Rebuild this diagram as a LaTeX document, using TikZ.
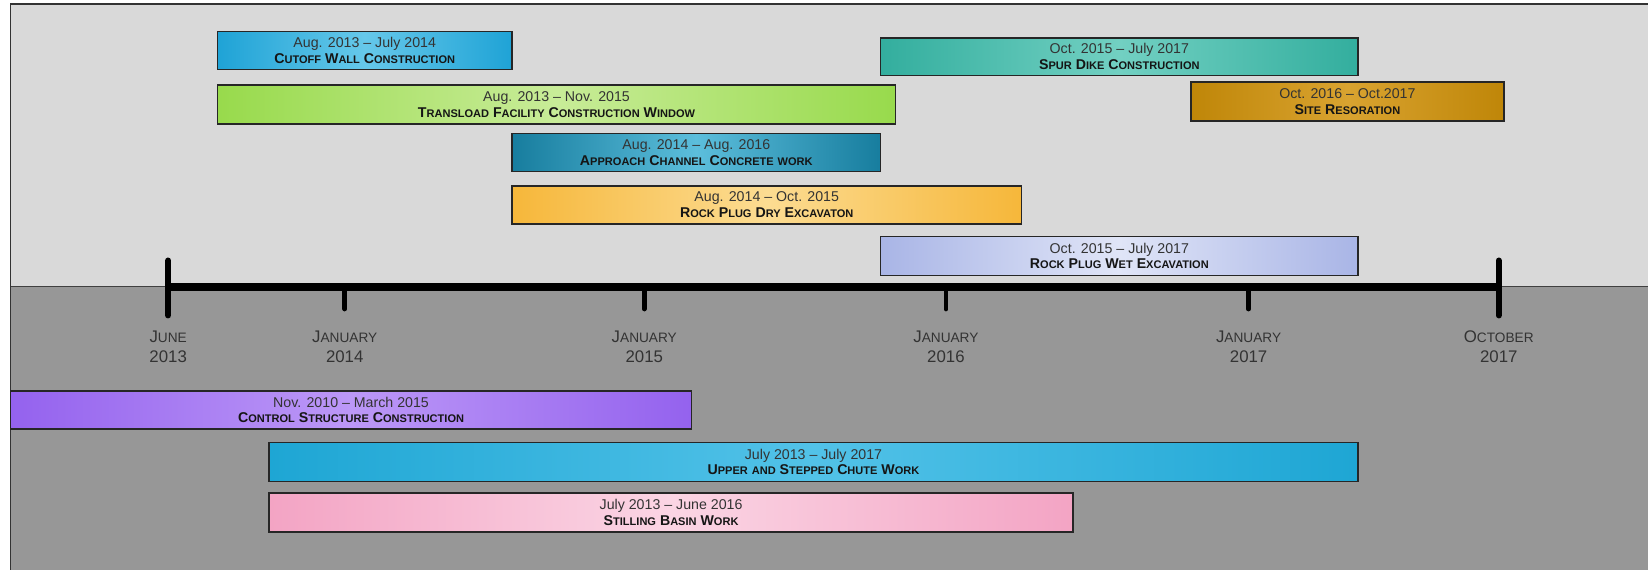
\documentclass[tikz,border=0pt]{standalone}
\usepackage{fontspec}
\setmainfont{Liberation Sans}
\definecolor{upbg}{HTML}{D9D9D9}
\definecolor{lowbg}{HTML}{979797}
\definecolor{txtA}{HTML}{333333}
\definecolor{txtB}{HTML}{151515}
\definecolor{cutE}{HTML}{1FA3D6}\definecolor{cutM}{HTML}{66C8EA}
\definecolor{trE}{HTML}{98DA4C}\definecolor{trM}{HTML}{C8EC98}
\definecolor{apE}{HTML}{177D9E}\definecolor{apM}{HTML}{5CBEDC}
\definecolor{dryE}{HTML}{F6B73A}\definecolor{dryM}{HTML}{FCDC92}
\definecolor{wetE}{HTML}{A9B5E6}\definecolor{wetM}{HTML}{E0E5F7}
\definecolor{spE}{HTML}{33AE9E}\definecolor{spM}{HTML}{72D0C2}
\definecolor{siE}{HTML}{BF8608}\definecolor{siM}{HTML}{D9A330}
\definecolor{ctE}{HTML}{9462EE}\definecolor{ctM}{HTML}{BC98F7}
\definecolor{chE}{HTML}{1EA6D4}\definecolor{chM}{HTML}{52C2E8}
\definecolor{stE}{HTML}{F3A4C4}\definecolor{stM}{HTML}{FBD5E4}
\newcommand\sm[1]{{\fontsize{10.5}{12}\selectfont #1}}
\newcommand\W[2]{#1\sm{#2}}
\newcommand\smx[1]{{\fontsize{13}{15}\selectfont #1}}
\newcommand\X[2]{#1\smx{#2}}
\newcommand\la[1]{{\color{txtA}#1}}
\newcommand\lb[1]{{\color{txtB}\bfseries #1}}
\begin{document}
\begin{tikzpicture}[x=1pt,y=-1pt,
  bar/.style={rectangle, draw=black!85, line width=1.3pt, inner sep=0pt, align=center,
    font=\fontsize{13.5}{15}\selectfont},
  tickbig/.style={line width=6pt, line cap=round, black},
  ticksmall/.style={line width=4.5pt, line cap=round, black},
  axlab/.style={align=center, text=txtA, font=\fontsize{16}{18.5}\selectfont, inner sep=0pt},
]
\useasboundingbox (0,0) rectangle (1568,542.3);
\fill[white] (0,0) rectangle (1568,542.3);
\fill[upbg] (10,4) rectangle (1568,273);
\fill[lowbg] (10,273) rectangle (1568,542.3);
\draw[line width=1.8pt, black!80] (1568,4) -- (10,4) -- (10,542.3);
% axis
\coordinate (a0) at (10,272.5);
\coordinate (a1) at (1568,272.5);
\coordinate (jun13) at (160,273);
\coordinate (jan14) at (328,273);
\coordinate (jan15) at (613,273);
\coordinate (jan16) at (900,273);
\coordinate (jan17) at (1188,273);
\coordinate (oct17) at (1426,273);
\draw[line width=1.5pt, black!75] (a0) -- (a1);
\draw[line width=7pt, black] (jun13) -- (oct17);
\draw[tickbig] ([yshift=25pt]jun13) -- ([yshift=-27pt]jun13);
\draw[tickbig] ([yshift=25pt]oct17) -- ([yshift=-27pt]oct17);
\foreach \t in {jan14,jan15,jan16,jan17}
  \draw[ticksmall] (\t) -- ([yshift=-21pt]\t);
\node[axlab] (l13) at (160,330) {\X{J}{UNE}\\2013};
\node[axlab] (l14) at (328,330) {\X{J}{ANUARY}\\2014};
\node[axlab] (l15) at (613,330) {\X{J}{ANUARY}\\2015};
\node[axlab] (l16) at (900,330) {\X{J}{ANUARY}\\2016};
\node[axlab] (l17) at (1188,330) {\X{J}{ANUARY}\\2017};
\node[axlab] (lo17) at (1426,330) {\X{O}{CTOBER}\\2017};
% bars
\node[bar, left color=cutE, right color=cutE, middle color=cutM, minimum width=280pt, minimum height=36pt] (cut) at (347,48)
 {\la{Aug. 2013 – July 2014}\\\lb{\W{C}{UTOFF} \W{W}{ALL} \W{C}{ONSTRUCTION}}};
\node[bar, left color=trE, right color=trE, middle color=trM, minimum width=645pt, minimum height=37pt] (trans) at (529.5,99.5)
 {\la{Aug. 2013 – Nov. 2015}\\\lb{\W{T}{RANSLOAD} \W{F}{ACILITY} \W{C}{ONSTRUCTION} \W{W}{INDOW}}};
\node[bar, left color=apE, right color=apE, middle color=apM, minimum width=351pt, minimum height=36pt] (appr) at (662.5,145)
 {\la{Aug. 2014 – Aug. 2016}\\\lb{\W{A}{PPROACH} \W{C}{HANNEL} \W{C}{ONCRETE} \sm{WORK}}};
\node[bar, left color=dryE, right color=dryE, middle color=dryM, minimum width=485pt, minimum height=36pt] (dry) at (729.5,195)
 {\la{Aug. 2014 – Oct. 2015}\\\lb{\W{R}{OCK} \W{P}{LUG} \W{D}{RY} \W{E}{XCAVATON}}};
\node[bar, left color=wetE, right color=wetE, middle color=wetM, minimum width=454pt, minimum height=37pt] (wet) at (1065,243.5)
 {\la{Oct. 2015 – July 2017}\\\lb{\W{R}{OCK} \W{P}{LUG} \W{W}{ET} \W{E}{XCAVATION}}};
\node[bar, left color=spE, right color=spE, middle color=spM, minimum width=454pt, minimum height=36pt] (spur) at (1065,54)
 {\la{Oct. 2015 – July 2017}\\\lb{\W{S}{PUR} \W{D}{IKE} \W{C}{ONSTRUCTION}}};
\node[bar, left color=siE, right color=siE, middle color=siM, minimum width=298pt, minimum height=37pt] (site) at (1282,96.5)
 {\la{Oct. 2016 – Oct.2017}\\\lb{\W{S}{ITE} \W{R}{ESORATION}}};
\node[bar, left color=ctE, right color=ctE, middle color=ctM, minimum width=648pt, minimum height=36pt] (ctrl) at (334,390)
 {\la{Nov. 2010 – March 2015}\\\lb{\W{C}{ONTROL} \W{S}{TRUCTURE} \W{C}{ONSTRUCTION}}};
\node[bar, left color=chE, right color=chE, middle color=chM, minimum width=1036pt, minimum height=37pt] (chute) at (774,439.5)
 {\la{July 2013 – July 2017}\\\lb{\W{U}{PPER} \sm{AND} \W{S}{TEPPED} \W{C}{HUTE} \W{W}{ORK}}};
\node[bar, left color=stE, right color=stE, middle color=stM, minimum width=765pt, minimum height=37pt] (still) at (638.5,487.5)
 {\la{July 2013 – June 2016}\\\lb{\W{S}{TILLING} \W{B}{ASIN} \W{W}{ORK}}};
\end{tikzpicture}
\end{document}
